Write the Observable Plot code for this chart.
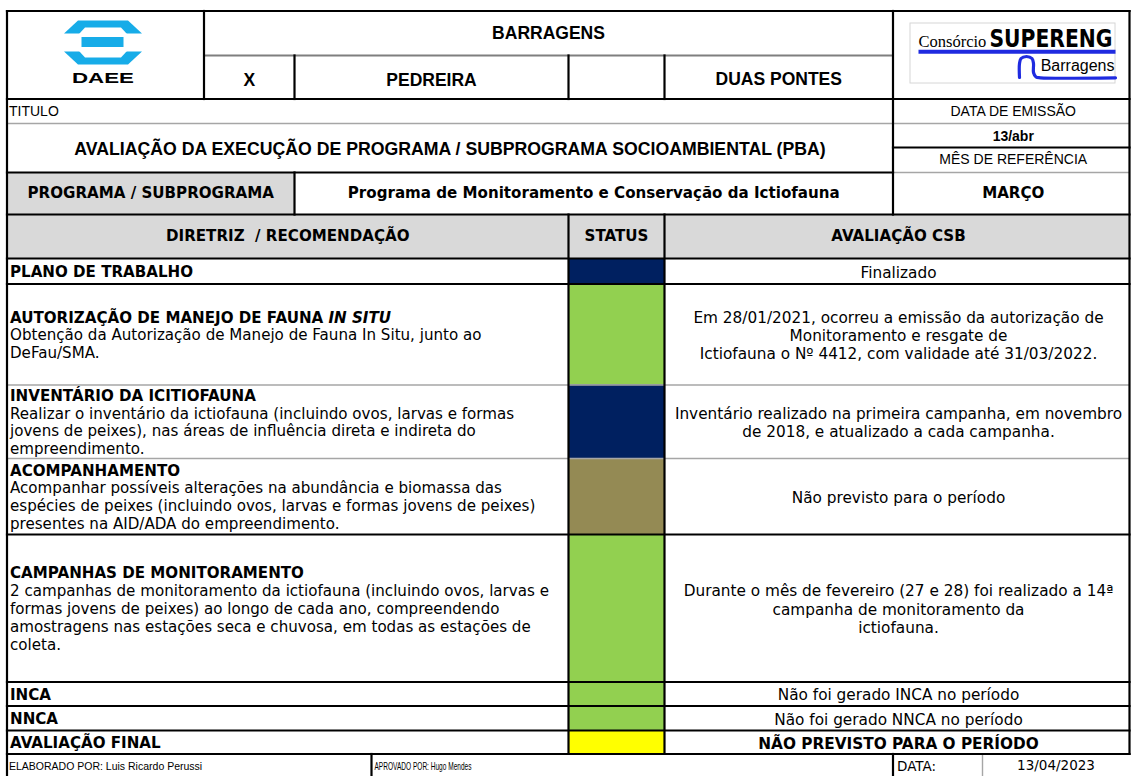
<!DOCTYPE html>
<html>
<head>
<meta charset="utf-8">
<script src="https://cdn.jsdelivr.net/npm/d3@7"></script>
<script src="https://cdn.jsdelivr.net/npm/@observablehq/plot@0.6"></script>
<style>
  html, body { margin: 0; padding: 0; background: #fff; }
  #chart svg { display: block; }
</style>
</head>
<body>
<div id="chart"></div>
<script>
// ---------------- DATA ----------------
const topHeader = "BARRAGENS";
const damOptions = ["X", "PEDREIRA", "", "DUAS PONTES"];
const titleLabel = "TITULO";
const reportTitle = "AVALIAÇÃO DA EXECUÇÃO DE PROGRAMA / SUBPROGRAMA SOCIOAMBIENTAL (PBA)";
const issueLabel = "DATA DE EMISSÃO";
const issueDate = "13/abr";
const monthLabel = "MÊS DE REFERÊNCIA";
const refMonth = "MARÇO";
const programLabel = "PROGRAMA / SUBPROGRAMA";
const programName = "Programa de Monitoramento e Conservação da Ictiofauna";
const columnHeaders = ["DIRETRIZ  / RECOMENDAÇÃO", "STATUS", "AVALIAÇÃO CSB"];

const itemTitles = [
  "PLANO DE TRABALHO",
  "AUTORIZAÇÃO DE MANEJO DE FAUNA IN SITU",
  "INVENTÁRIO DA ICITIOFAUNA",
  "ACOMPANHAMENTO",
  "CAMPANHAS DE MONITORAMENTO",
  "INCA",
  "NNCA",
  "AVALIAÇÃO FINAL"
];
const italicPhrase = "IN SITU";
const itemDescriptions = [
  [],
  ["Obtenção da Autorização de Manejo de Fauna In Situ, junto ao", "DeFau/SMA."],
  ["Realizar o inventário da ictiofauna (incluindo ovos, larvas e formas",
   "jovens de peixes), nas áreas de influência direta e indireta do",
   "empreendimento."],
  ["Acompanhar possíveis alterações na abundância e biomassa das",
   "espécies de peixes (incluindo ovos, larvas e formas jovens de peixes)",
   "presentes na AID/ADA do empreendimento."],
  ["2 campanhas de monitoramento da ictiofauna (incluindo ovos, larvas e",
   "formas jovens de peixes) ao longo de cada ano, compreendendo",
   "amostragens nas estações seca e chuvosa, em todas as estações de",
   "coleta."],
  [],
  [],
  []
];
const statusKeys = ["Concluído", "Em andamento", "Não previsto", "Avaliação final"];
const statusColors = ["#002060", "#92D050", "#948A54", "#FFFF00"];
const itemStatus = ["Concluído", "Em andamento", "Concluído", "Não previsto",
                    "Em andamento", "Em andamento", "Em andamento", "Avaliação final"];
const evaluations = [
  ["Finalizado"],
  ["Em 28/01/2021, ocorreu a emissão da autorização de",
   "Monitoramento e resgate de",
   "Ictiofauna o Nº 4412, com validade até 31/03/2022."],
  ["Inventário realizado na primeira campanha, em novembro",
   "de 2018, e atualizado a cada campanha."],
  ["Não previsto para o período"],
  ["Durante o mês de fevereiro (27 e 28) foi realizado a 14ª",
   "campanha de monitoramento da",
   "ictiofauna."],
  ["Não foi gerado INCA no período"],
  ["Não foi gerado NNCA no período"],
  ["NÃO PREVISTO PARA O PERÍODO"]
];
const footerAuthor = "ELABORADO POR: Luis Ricardo Perussi";
const footerApprover = "APROVADO POR: Hugo Mendes";
const footerDateLabel = "DATA:";
const footerDate = "13/04/2023";
const logoName = "DAEE";
const partnerLogo = ["Consórcio", "SUPERENG", "Barragens"];

// ---------------- LAYOUT ----------------
const W = 1134, H = 776;
const COL = {L: 6.5, logo: 203.5, x: 294, ped: 568, empty: 664, main: 892.5, R: 1129, foot: 371, date: 982};
const ROW = {top: 10.5, barr: 55, head: 98.5, titulo: 123, issue: 147, title: 172, prog: 214, colHead: 258, foot: 753.5, bottom: 776};
const itemEdges = [258, 283.5, 384.5, 458, 534, 681.5, 705.5, 730, 753.5];
const itemBottomStyle = ["thick", "gray", "gray", "thick", "thick", "thick", "thick", "thick"];
const LH_LEFT = 17.8, LH_RIGHT = 18.3;
const EVAL_X = 898;
const FS_LEFT = 15.1, FS_RIGHT = 15.3;

const F_ARIAL = "'Liberation Sans', Arial, sans-serif";
const F_VERD = "'DejaVu Sans', Verdana, sans-serif";
const F_SERIF = "'Liberation Serif', 'Times New Roman', serif";
const BLUE_DAEE = "#17ACE8";
const BLUE_SUP = "#1F2BE0";

// DAEE logo geometry (decoration)
const LC = 102.5;
const daeeBlue = [
  {id: "top", pts: [[LC-25,20],[LC+25,20],[LC+39,33],[LC-39,33]]},
  {id: "bot", pts: [[LC-39,51],[LC+39,51],[LC+25,64],[LC-25,64]]}
];
const daeeWhite = [
  {id: "topIn", pts: [[LC-18,27],[LC+18,27],[LC+24,33.5],[LC-24,33.5]]},
  {id: "botIn", pts: [[LC-24,50.5],[LC+24,50.5],[LC+18,57],[LC-18,57]]}
];
const daeeBar = [{x1: LC-21, x2: LC+21, y1: 37, y2: 47}];
const flatten = (shapes) => shapes.flatMap(s => [...s.pts, s.pts[0]].map(([x, y]) => ({id: s.id, x, y})));

const PLOGO = {x1: 910, x2: 1115, y1: 23, y2: 83, lineX1: 918, lineY: 51.3, superLen: 123, daeeLen: 62, approverLen: 97};
const superArc = [[1019,77],[1019,63],[1020.5,58],[1026,56],[1031.5,58],[1033,63],[1033,72],[1035.5,76.5],[1040,77.3],[1115,77.3]]
  .map(([x, y]) => ({x, y}));

// ---------------- DERIVED TABLES ----------------
const grayCells = [
  {x1: COL.L, x2: COL.x, y1: ROW.title, y2: ROW.prog},
  {x1: COL.L, x2: COL.R, y1: ROW.prog, y2: ROW.colHead}
];
const statusCells = itemStatus.map((s, i) => ({status: s, x1: COL.ped, x2: COL.empty, y1: itemEdges[i], y2: itemEdges[i + 1]}));

const thick = [
  [COL.L, ROW.top, COL.R, ROW.top],
  [COL.L, ROW.top, COL.L, ROW.bottom],
  [COL.R, ROW.top, COL.R, ROW.foot],
  [COL.logo, ROW.top, COL.logo, ROW.head],
  [COL.x, ROW.barr, COL.x, ROW.head],
  [COL.ped, ROW.barr, COL.ped, ROW.head],
  [COL.empty, ROW.barr, COL.empty, ROW.head],
  [COL.main, ROW.top, COL.main, ROW.prog],
  [COL.L, ROW.head, COL.R, ROW.head],
  [COL.main, ROW.issue, COL.R, ROW.issue],
  [COL.L, ROW.title, COL.main, ROW.title],
  [COL.x, ROW.title, COL.x, ROW.prog],
  [COL.L, ROW.prog, COL.R, ROW.prog],
  [COL.L, ROW.colHead, COL.R, ROW.colHead],
  [COL.ped, ROW.prog, COL.ped, ROW.foot],
  [COL.empty, ROW.prog, COL.empty, ROW.foot],
  [COL.foot, ROW.foot, COL.foot, ROW.bottom],
  [COL.main, ROW.foot, COL.main, ROW.bottom]
];
const gray = [
  [COL.main, ROW.titulo, COL.R, ROW.titulo],
  [COL.L, ROW.titulo, COL.main, ROW.titulo],
  [COL.main, ROW.title, COL.R, ROW.title],
  [COL.date, ROW.foot, COL.date, ROW.bottom]
];
const darkGray = [[COL.logo, ROW.barr, COL.main, ROW.barr]];
itemBottomStyle.forEach((s, i) => {
  const seg = [COL.L, itemEdges[i + 1], COL.R, itemEdges[i + 1]];
  (s === "thick" ? thick : gray).push(seg);
});
const toSeg = a => a.map(([x1, y1, x2, y2]) => ({x1, y1, x2, y2}));

const leftBold = [], leftNormal = [];
itemTitles.forEach((t, i) => {
  const lines = [t, ...itemDescriptions[i]];
  const cy = (itemEdges[i] + itemEdges[i + 1]) / 2 + 1;
  lines.forEach((text, j) => {
    const d = {text, x: COL.L + 3, y: cy + (j - (lines.length - 1) / 2) * LH_LEFT};
    (j === 0 ? leftBold : leftNormal).push(d);
  });
});
const evalNormal = [], evalBold = [];
evaluations.forEach((lines, i) => {
  const cy = (itemEdges[i] + itemEdges[i + 1]) / 2 + 1.5;
  lines.forEach((text, j) => {
    const d = {text, x: EVAL_X, y: cy + (j - (lines.length - 1) / 2) * LH_RIGHT};
    (i === evaluations.length - 1 ? evalBold : evalNormal).push(d);
  });
});

const headerBold = [
  {text: topHeader, x: (COL.logo + COL.main) / 2, y: 33},
  {text: damOptions[0], x: (COL.logo + COL.x) / 2, y: 80},
  {text: damOptions[1], x: (COL.x + COL.ped) / 2, y: 80},
  {text: damOptions[2], x: (COL.ped + COL.empty) / 2, y: 80},
  {text: damOptions[3], x: (COL.empty + COL.main) / 2, y: 79}
];
const sideX = (COL.main + COL.R) / 2 + 2;
const sideNormal = [
  {text: issueLabel, x: sideX, y: 111},
  {text: monthLabel, x: sideX, y: 159}
];
const sideBold = [{text: issueDate, x: sideX, y: 136}];
const verdBold = [
  {text: refMonth, x: sideX, y: 193},
  {text: programLabel, x: (COL.L + COL.x) / 2, y: 193},
  {text: programName, x: (COL.x + COL.main) / 2, y: 193},
  {text: columnHeaders[0], x: (COL.L + COL.ped) / 2, y: 236},
  {text: columnHeaders[1], x: (COL.ped + COL.empty) / 2, y: 236},
  {text: columnHeaders[2], x: EVAL_X, y: 236}
];
const footY = (ROW.foot + ROW.bottom) / 2 + 1;

const T = (data, o) => Plot.text(data, {x: "x", y: "y", text: "text", lineAnchor: "middle", fill: "#000", ...o});

// ---------------- PLOT ----------------
const chart = Plot.plot({
  width: W, height: H, margin: 0,
  x: {domain: [0, W], range: [0, W], axis: null},
  y: {domain: [0, H], range: [0, H], axis: null},
  color: {type: "ordinal", domain: statusKeys, range: statusColors},
  style: {background: "#fff", overflow: "visible"},
  marks: [
    Plot.rect(grayCells, {x1: "x1", x2: "x2", y1: "y1", y2: "y2", fill: "#D9D9D9"}),
    Plot.rect(statusCells, {x1: "x1", x2: "x2", y1: "y1", y2: "y2", fill: "status"}),

    // DAEE logo
    Plot.line(flatten(daeeBlue), {x: "x", y: "y", z: "id", fill: BLUE_DAEE, stroke: "none", curve: "linear"}),
    Plot.line(flatten(daeeWhite), {x: "x", y: "y", z: "id", fill: "#fff", stroke: "none", curve: "linear"}),
    Plot.rect(daeeBar, {x1: "x1", x2: "x2", y1: "y1", y2: "y2", fill: BLUE_DAEE}),
    T([{text: logoName, x: LC, y: 77.5}], {fontFamily: F_ARIAL, fontWeight: "bold", fontSize: 15.5, textAnchor: "middle"}),

    // partner logo
    Plot.rect([PLOGO], {x1: "x1", x2: "x2", y1: "y1", y2: "y2", fill: "none", stroke: "#d6d6d6", strokeWidth: 1}),
    Plot.link([{x1: PLOGO.lineX1, x2: PLOGO.x2, y1: PLOGO.lineY, y2: PLOGO.lineY}], {x1: "x1", x2: "x2", y1: "y1", y2: "y2", stroke: BLUE_SUP, strokeWidth: 4}),
    Plot.line(superArc, {x: "x", y: "y", stroke: BLUE_SUP, strokeWidth: 3.2, curve: "catmull-rom"}),
    T([{text: partnerLogo[0], x: PLOGO.lineX1, y: 41.5}], {fontFamily: F_SERIF, fontSize: 16.5, textAnchor: "start"}),
    T([{text: partnerLogo[1], x: PLOGO.x2 - 3, y: 39}], {fontFamily: F_VERD, fontWeight: "bold", fontSize: 24, textAnchor: "end"}),
    T([{text: partnerLogo[2], x: PLOGO.x2 - 1, y: 65.5}], {fontFamily: F_ARIAL, fontSize: 16, textAnchor: "end"}),

    // borders
    Plot.link(toSeg(gray), {x1: "x1", x2: "x2", y1: "y1", y2: "y2", stroke: "#a6a6a6", strokeWidth: 1.4}),
    Plot.link(toSeg(darkGray), {x1: "x1", x2: "x2", y1: "y1", y2: "y2", stroke: "#7f7f7f", strokeWidth: 2}),
    Plot.link(toSeg(thick), {x1: "x1", x2: "x2", y1: "y1", y2: "y2", stroke: "#000", strokeWidth: 2.2, strokeLinecap: "square"}),

    // header texts
    T(headerBold, {fontFamily: F_ARIAL, fontWeight: "bold", fontSize: 17.5, textAnchor: "middle"}),
    T([{text: titleLabel, x: COL.L + 2, y: 111}], {fontFamily: F_ARIAL, fontSize: 14, textAnchor: "start"}),
    T([{text: reportTitle, x: (COL.L + COL.main) / 2, y: 148.5}], {fontFamily: F_ARIAL, fontWeight: "bold", fontSize: 17.7, textAnchor: "middle"}),
    T(sideNormal, {fontFamily: F_ARIAL, fontSize: 14, textAnchor: "middle"}),
    T(sideBold, {fontFamily: F_ARIAL, fontWeight: "bold", fontSize: 14, textAnchor: "middle"}),
    T(verdBold, {fontFamily: F_VERD, fontWeight: "bold", fontSize: 15.1, textAnchor: "middle"}),

    // body
    T(leftBold, {fontFamily: F_VERD, fontWeight: "bold", fontSize: FS_LEFT, textAnchor: "start"}),
    T(leftNormal, {fontFamily: F_VERD, fontSize: FS_LEFT, textAnchor: "start"}),
    T(evalNormal, {fontFamily: F_VERD, fontSize: FS_RIGHT, textAnchor: "middle"}),
    T(evalBold, {fontFamily: F_VERD, fontWeight: "bold", fontSize: FS_RIGHT, textAnchor: "middle"}),

    // footer
    T([{text: footerAuthor, x: COL.L + 2, y: footY}], {fontFamily: F_ARIAL, fontSize: 10.5, textAnchor: "start"}),
    T([{text: footerApprover, x: COL.foot + 3, y: footY}], {fontFamily: F_ARIAL, fontSize: 10.5, textAnchor: "start"}),
    T([{text: footerDateLabel, x: COL.main + 4, y: footY}], {fontFamily: F_VERD, fontSize: 13.5, textAnchor: "start"}),
    T([{text: footerDate, x: (COL.date + COL.R) / 2, y: footY - 1}], {fontFamily: F_VERD, fontSize: 13.5, textAnchor: "middle"})
  ]
});

document.getElementById("chart").appendChild(chart);

// ---------------- POST-PROCESS (mixed styles / logo text fitting) ----------------
d3.select(chart).selectAll("text").each(function () {
  const t = this.textContent;
  const fit = (len) => {
    this.setAttribute("textLength", len);
    this.setAttribute("lengthAdjust", "spacingAndGlyphs");
  };
  if (t.endsWith(" " + italicPhrase)) {
    const sel = d3.select(this);
    sel.text(t.slice(0, t.length - italicPhrase.length));
    sel.append("tspan").attr("font-style", "italic").text(italicPhrase);
  } else if (t === partnerLogo[1]) {
    fit(PLOGO.superLen);
  } else if (t === logoName) {
    fit(PLOGO.daeeLen);
  } else if (t === footerApprover) {
    fit(PLOGO.approverLen);
  }
});
</script>
</body>
</html>
